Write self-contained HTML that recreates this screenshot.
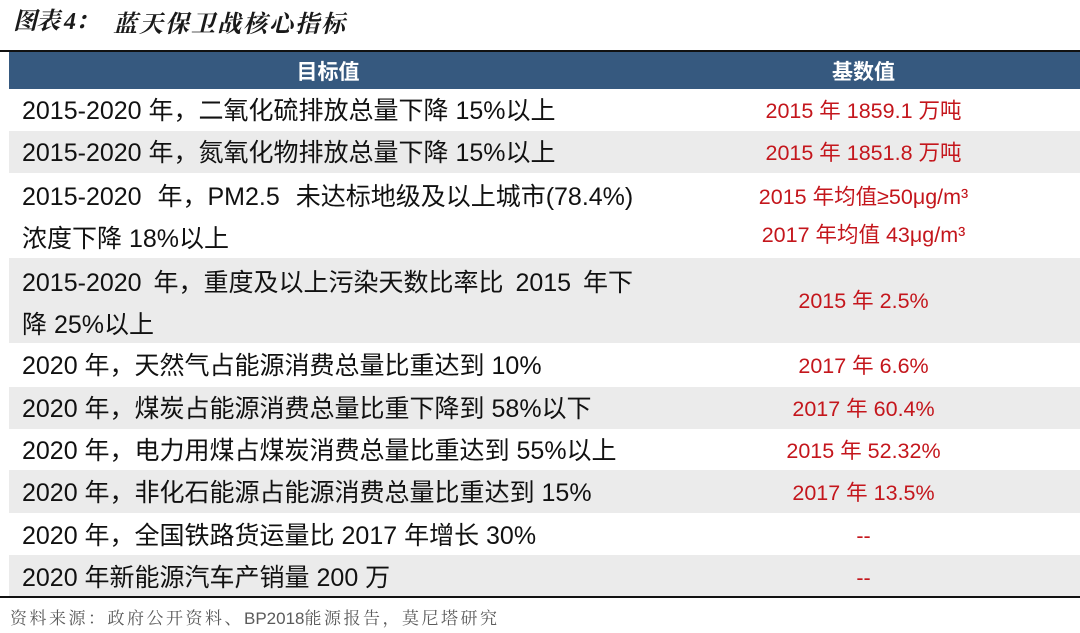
<!DOCTYPE html>
<html>
<head>
<meta charset="utf-8">
<style>
  html, body { margin:0; padding:0; }
  body { width:1080px; height:631px; position:relative; background:#ffffff; overflow:hidden;
         font-family:"Liberation Sans","Noto Sans CJK SC",sans-serif; }
  .abs { position:absolute; }
  .title1 { left:13px; top:7px; font-family:"Liberation Serif","Noto Serif CJK SC",serif; font-weight:bold; font-style:italic;
            font-size:24px; line-height:30px; color:#1a1a1a; white-space:pre; letter-spacing:-1px; }
  .title2 { left:113px; top:7px; font-family:"Noto Serif CJK SC",serif; font-weight:bold; font-style:italic;
            font-size:24px; line-height:30px; letter-spacing:2px; color:#1a1a1a; white-space:nowrap; }
  .rule { left:0; width:1080px; height:2px; background:#111; }
  .hdr { left:9px; top:52px; width:1071px; height:37px; background:#36597f; }
  .gray { left:9px; width:1071px; background:#ebebeb; }
  .ht { top:56px; height:30px; line-height:30px; color:#ffffff; font-weight:bold; font-size:21px;
        font-family:"Noto Sans CJK SC",sans-serif; text-align:center; }
  .lt { left:22px; height:30px; line-height:30px; font-size:25px; color:#111; white-space:nowrap; }
  .rt { left:647px; width:433px; height:30px; line-height:30px; font-size:21.5px; color:#c4161c;
        text-align:center; white-space:nowrap; }
  .src { left:10px; top:603px; height:28px; line-height:28px; font-size:17px; color:#5a5a5a;
         font-family:"Noto Serif CJK SC",serif; letter-spacing:2.5px; white-space:nowrap; }
  .src span { font-family:"Liberation Sans",sans-serif; letter-spacing:0px; }
</style>
</head>
<body>
  <div class="abs title1">图表 4：</div>
  <div class="abs title2">蓝天保卫战核心指标</div>

  <div class="abs rule" style="top:50px;"></div>
  <div class="abs hdr"></div>
  <div class="abs ht" style="left:9px;width:638px;">目标值</div>
  <div class="abs ht" style="left:647px;width:433px;">基数值</div>

  <!-- gray stripes -->
  <div class="abs gray" style="top:131px;height:42px;"></div>
  <div class="abs gray" style="top:258px;height:85px;"></div>
  <div class="abs gray" style="top:387px;height:42px;"></div>
  <div class="abs gray" style="top:470px;height:43px;"></div>
  <div class="abs gray" style="top:555px;height:41px;"></div>

  <div class="abs rule" style="top:596px;"></div>

  <!-- left column -->
  <div class="abs lt" style="top:96px;">2015-2020 年，二氧化硫排放总量下降 15%以上</div>
  <div class="abs lt" style="top:138px;">2015-2020 年，氮氧化物排放总量下降 15%以上</div>
  <div class="abs lt" style="top:182px;word-spacing:9px;">2015-2020 年，PM2.5 未达标地级及以上城市(78.4%)</div>
  <div class="abs lt" style="top:224px;">浓度下降 18%以上</div>
  <div class="abs lt" style="top:268px;word-spacing:5px;">2015-2020 年，重度及以上污染天数比率比 2015 年下</div>
  <div class="abs lt" style="top:310px;">降 25%以上</div>
  <div class="abs lt" style="top:351px;">2020 年，天然气占能源消费总量比重达到 10%</div>
  <div class="abs lt" style="top:394px;">2020 年，煤炭占能源消费总量比重下降到 58%以下</div>
  <div class="abs lt" style="top:436px;">2020 年，电力用煤占煤炭消费总量比重达到 55%以上</div>
  <div class="abs lt" style="top:478px;">2020 年，非化石能源占能源消费总量比重达到 15%</div>
  <div class="abs lt" style="top:521px;">2020 年，全国铁路货运量比 2017 年增长 30%</div>
  <div class="abs lt" style="top:563px;">2020 年新能源汽车产销量 200 万</div>

  <!-- right column -->
  <div class="abs rt" style="top:96px;">2015 年 1859.1 万吨</div>
  <div class="abs rt" style="top:138px;">2015 年 1851.8 万吨</div>
  <div class="abs rt" style="top:182px;">2015 年均值≥50μg/m³</div>
  <div class="abs rt" style="top:220px;">2017 年均值 43μg/m³</div>
  <div class="abs rt" style="top:286px;">2015 年 2.5%</div>
  <div class="abs rt" style="top:351px;">2017 年 6.6%</div>
  <div class="abs rt" style="top:394px;">2017 年 60.4%</div>
  <div class="abs rt" style="top:436px;">2015 年 52.32%</div>
  <div class="abs rt" style="top:478px;">2017 年 13.5%</div>
  <div class="abs rt" style="top:521px;">--</div>
  <div class="abs rt" style="top:563px;">--</div>

  <div class="abs src">资料来源：政府公开资料、<span>BP2018</span>能源报告，莫尼塔研究</div>
</body>
</html>
